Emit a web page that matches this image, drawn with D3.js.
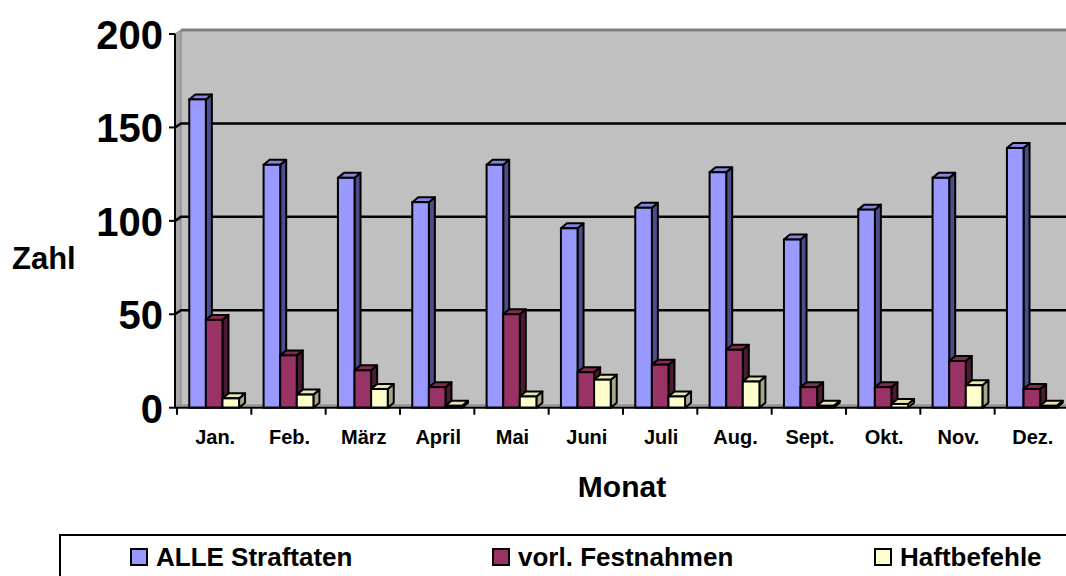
<!DOCTYPE html>
<html>
<head>
<meta charset="utf-8">
<script src="https://cdn.jsdelivr.net/npm/d3@7"></script>
<style>
  body { margin: 0; background: #fff; }
  text { font-family: "Liberation Sans", Arial, sans-serif; font-weight: bold; }
</style>
</head>
<body>
<svg id="chart" width="1066" height="576"></svg>
<script>
// Daten
var months = ["Jan.", "Feb.", "März", "April", "Mai", "Juni", "Juli", "Aug.", "Sept.", "Okt.", "Nov.", "Dez."];
var seriesNames = ["ALLE Straftaten", "vorl. Festnahmen", "Haftbefehle"];
var straftaten = [165, 130, 123, 110, 130, 96, 107, 126, 90, 106, 123, 139];
var festnahmen = [47, 28, 20, 11, 50, 19, 23, 31, 11, 11, 25, 10];
var haftbefehle = [5, 7, 10, 1, 6, 15, 6, 14, 1, 2, 12, 1];
var yTicks = [0, 50, 100, 150, 200];

var seriesValues = [straftaten, festnahmen, haftbefehle];
var colors = [
    { front: "#9999ff", side: "#4d4d8a", top: "#8585e0" },
    { front: "#993366", side: "#4d1a33", top: "#85294f" },
    { front: "#ffffcc", side: "#a6a68a", top: "#e6e6b3" }
];

var svg = d3.select("#chart");

// Geometrie
var left = 175, floorY = 407.7, topY = 34, right = 1069;
var depthX = 6, depthY = 4;     // Tiefe der Wand
var barDx = 6, barDy = 5;       // Tiefe der Saeulen

var x0 = d3.scaleBand().domain(months).range([177, right]).paddingInner(0.33).paddingOuter(0.165);
var step = x0.step();
var x1 = d3.scaleBand().domain([0, 1, 2]).range([0, x0.bandwidth()]);
var y = d3.scaleLinear().domain([0, 200]).range([floorY, topY]);

// Rueckwand
svg.append("rect")
    .attr("x", left + depthX).attr("y", y(200) - depthY)
    .attr("width", 1066 - left - depthX).attr("height", floorY - y(200))
    .attr("fill", "#c0c0c0");
svg.append("line")
    .attr("x1", left + depthX).attr("x2", 1066)
    .attr("y1", y(200) - depthY).attr("y2", y(200) - depthY)
    .attr("stroke", "#808080").attr("stroke-width", 3);

// linke Seitenwand
svg.append("polygon")
    .attr("points", [[left, y(200)], [left + depthX, y(200) - depthY], [left + depthX, floorY - depthY], [left, floorY]].join(" "))
    .attr("fill", "#a6a6a6").attr("stroke", "#808080").attr("stroke-width", 1);

// Boden
svg.append("polygon")
    .attr("points", [[left, floorY], [left + depthX, floorY - depthY], [1066, floorY - depthY], [1066, floorY]].join(" "))
    .attr("fill", "#9a9a9a");

// Gitternetzlinien
yTicks.filter(function (d) { return d > 0 && d < 200; }).forEach(function (t) {
    svg.append("path")
        .attr("d", "M" + left + "," + y(t) + "L" + (left + depthX) + "," + (y(t) - depthY) + "L1066," + (y(t) - depthY))
        .attr("fill", "none").attr("stroke", "#000").attr("stroke-width", 2.5);
});

// Saeulen
seriesValues.forEach(function (vals, si) {
    var c = colors[si];
    var g = svg.append("g");
    vals.forEach(function (v, i) {
        var xl = x0(months[i]) + x1(si), w = x1.bandwidth();
        var yt = y(v), yb = floorY;
        g.append("polygon")
            .attr("points", [[xl + w, yt], [xl + w + barDx, yt - barDy], [xl + w + barDx, yb - barDy], [xl + w, yb]].join(" "))
            .attr("fill", c.side).attr("stroke", "#000").attr("stroke-width", 2).attr("stroke-linejoin", "round");
        g.append("polygon")
            .attr("points", [[xl, yt], [xl + barDx, yt - barDy], [xl + w + barDx, yt - barDy], [xl + w, yt]].join(" "))
            .attr("fill", c.top).attr("stroke", "#000").attr("stroke-width", 2).attr("stroke-linejoin", "round");
        g.append("rect")
            .attr("x", xl).attr("y", yt).attr("width", w).attr("height", yb - yt)
            .attr("fill", c.front).attr("stroke", "#000").attr("stroke-width", 2);
    });
});

// Y-Achse
var yAxis = svg.append("g");
yAxis.append("line")
    .attr("x1", left).attr("x2", left).attr("y1", y(200)).attr("y2", floorY)
    .attr("stroke", "#000").attr("stroke-width", 2);
yTicks.forEach(function (t) {
    yAxis.append("line")
        .attr("x1", left - 6).attr("x2", left).attr("y1", y(t)).attr("y2", y(t))
        .attr("stroke", "#000").attr("stroke-width", 2);
    yAxis.append("text")
        .attr("x", 163).attr("y", y(t) + 15)
        .attr("text-anchor", "end")
        .attr("font-size", "40px")
        .text(t);
});

// X-Achse
var xAxis = svg.append("g");
xAxis.append("line")
    .attr("x1", left).attr("x2", 1066).attr("y1", floorY).attr("y2", floorY)
    .attr("stroke", "#000").attr("stroke-width", 2);
months.forEach(function (m) {
    var xs = x0(m) - x0.step() * x0.paddingOuter();
    xAxis.append("line")
        .attr("x1", xs).attr("x2", xs).attr("y1", floorY).attr("y2", floorY + 7)
        .attr("stroke", "#000").attr("stroke-width", 2);
    xAxis.append("text")
        .attr("x", xs + step / 2 + 1).attr("y", 444)
        .attr("text-anchor", "middle")
        .attr("font-size", "20px")
        .text(m);
});

// Achsentitel
svg.append("text").attr("x", 12).attr("y", 269).attr("font-size", "31px").text("Zahl");
svg.append("text").attr("x", 622).attr("y", 497).attr("text-anchor", "middle").attr("font-size", "30px").text("Monat");

// Legende
svg.append("rect")
    .attr("x", 60).attr("y", 535).attr("width", 1100).attr("height", 100)
    .attr("fill", "#fff").attr("stroke", "#000").attr("stroke-width", 2);
var legendX = [131, 493, 875];
seriesNames.forEach(function (name, i) {
    svg.append("rect")
        .attr("x", legendX[i]).attr("y", 549).attr("width", 16).attr("height", 16)
        .attr("fill", colors[i].front).attr("stroke", "#000").attr("stroke-width", 2);
    svg.append("text")
        .attr("x", legendX[i] + 25).attr("y", 566)
        .attr("font-size", "26px")
        .text(name);
});
</script>
</body>
</html>
